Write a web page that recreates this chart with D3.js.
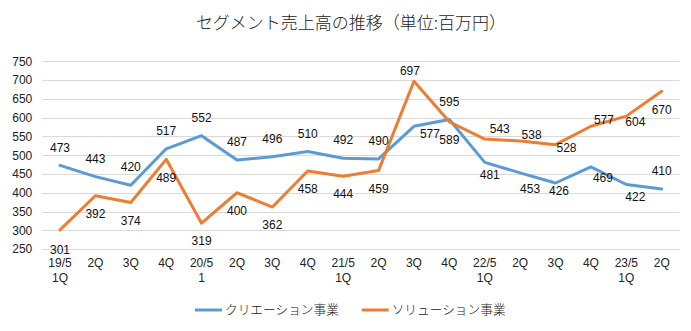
<!DOCTYPE html>
<html><head><meta charset="utf-8">
<script src="https://cdn.jsdelivr.net/npm/d3@7"></script>
<style>
html,body{margin:0;padding:0;background:#fff;}
svg{display:block;}
text{font-family:"Liberation Sans","Noto Sans CJK JP",sans-serif;}
</style></head>
<body>
<svg id="c" width="691" height="331"></svg>
<script>
const categories = ["19/5\n1Q","2Q","3Q","4Q","20/5\n1","2Q","3Q","4Q","21/5\n1Q","2Q","3Q","4Q","22/5\n1Q","2Q","3Q","4Q","23/5\n1Q","2Q"];
const creation = [473,443,420,517,552,487,496,510,492,490,577,595,481,453,426,469,422,410];
const solution = [301,392,374,489,319,400,362,458,444,459,697,589,543,538,528,577,604,670];
const seriesNames = ["クリエーション事業","ソリューション事業"];
const yTicks = [250,300,350,400,450,500,550,600,650,700,750];
const title = "セグメント売上高の推移（単位:百万円）";

const colors = ["#5B9BD5","#ED7D31"];
const svg = d3.select("#c");
const plot = {left:42.3, right:679.4, top:61.3, bottom:249.1};

const x = d3.scaleBand().domain(d3.range(categories.length)).range([plot.left, plot.right]).paddingInner(0).paddingOuter(0);
const cx = i => x(i) + x.bandwidth()/2;
const y = d3.scaleLinear().domain([250,750]).range([plot.bottom, plot.top]);

// title
svg.append("text").attr("x", 351).attr("y", 29).attr("text-anchor","middle")
  .style("font-family",'"Noto Sans CJK JP",sans-serif').style("font-size","17px").style("font-weight","300").attr("fill","#222")
  .text(title);

// gridlines
svg.append("g").selectAll("line").data(yTicks).join("line")
  .attr("x1", plot.left).attr("x2", plot.right)
  .attr("y1", d => Math.round(y(d))+0.5).attr("y2", d => Math.round(y(d))+0.5)
  .attr("stroke","#D9D9D9").attr("stroke-width",1);

// y axis
const ya = svg.append("g").attr("transform",`translate(${plot.left},0)`)
  .call(d3.axisLeft(y).tickValues(yTicks).tickSize(0).tickPadding(10));
ya.select(".domain").remove();
ya.selectAll("text").style("font-size","12px").style("font-family",'"Liberation Sans",sans-serif').attr("fill","#222");

// x axis
const xa = svg.append("g").attr("transform",`translate(0,${plot.bottom})`)
  .call(d3.axisBottom(x).tickSize(0).tickFormat(""));
xa.select(".domain").remove();
xa.selectAll(".tick").each(function(d){
  const t = d3.select(this).select("text").text(null).attr("y",0).attr("dy",null)
    .style("font-size","12px").attr("fill","#222");
  categories[d].split("\n").forEach((s,k)=>{
    t.append("tspan").attr("x",0).attr("y", 18 + k*15).text(s);
  });
});

// lines
const line = d3.line().x((d,i)=>cx(i)).y(d=>y(d));
[creation, solution].forEach((data,si)=>{
  svg.append("path").datum(data).attr("d", line).attr("fill","none")
    .attr("stroke", colors[si]).attr("stroke-width",3).attr("stroke-linejoin","round").attr("stroke-linecap","round");
});

// data labels (default: blue above, orange below; a few nudged like the original)
const nudges = [
  {10:[16,8],12:[5,12],13:[10,15.5],14:[3.5,8],15:[12,11],16:[9,12]},
  {0:[0,20],10:[-4,-10.5],12:[15,-10],13:[11.5,-6.6],14:[11,3.6],15:[13,-6],16:[9,5.6]}
];
[creation, solution].forEach((data,si)=>{
  svg.append("g").selectAll("text").data(data).join("text")
    .attr("x",(d,i)=> cx(i) + (nudges[si][i] ? nudges[si][i][0] : 0))
    .attr("y",(d,i)=> y(d) + (nudges[si][i] ? nudges[si][i][1] : (si===0 ? -18 : 18)))
    .attr("dy","0.35em").attr("text-anchor","middle")
    .style("font-size","12px").attr("fill","#111")
    .text(d=>d);
});

// legend
const lg = svg.append("g");
const legX = [195, 361.7];
seriesNames.forEach((n,i)=>{
  lg.append("line").attr("x1",legX[i]).attr("x2",legX[i]+27).attr("y1",310).attr("y2",310)
    .attr("stroke",colors[i]).attr("stroke-width",3);
  lg.append("text").attr("x",legX[i]+30).attr("y",310).attr("dy","0.35em")
    .style("font-family",'"Noto Sans CJK JP",sans-serif').style("font-size","12.7px").style("font-weight","300").attr("fill","#222").text(n);
});
</script>
</body></html>
